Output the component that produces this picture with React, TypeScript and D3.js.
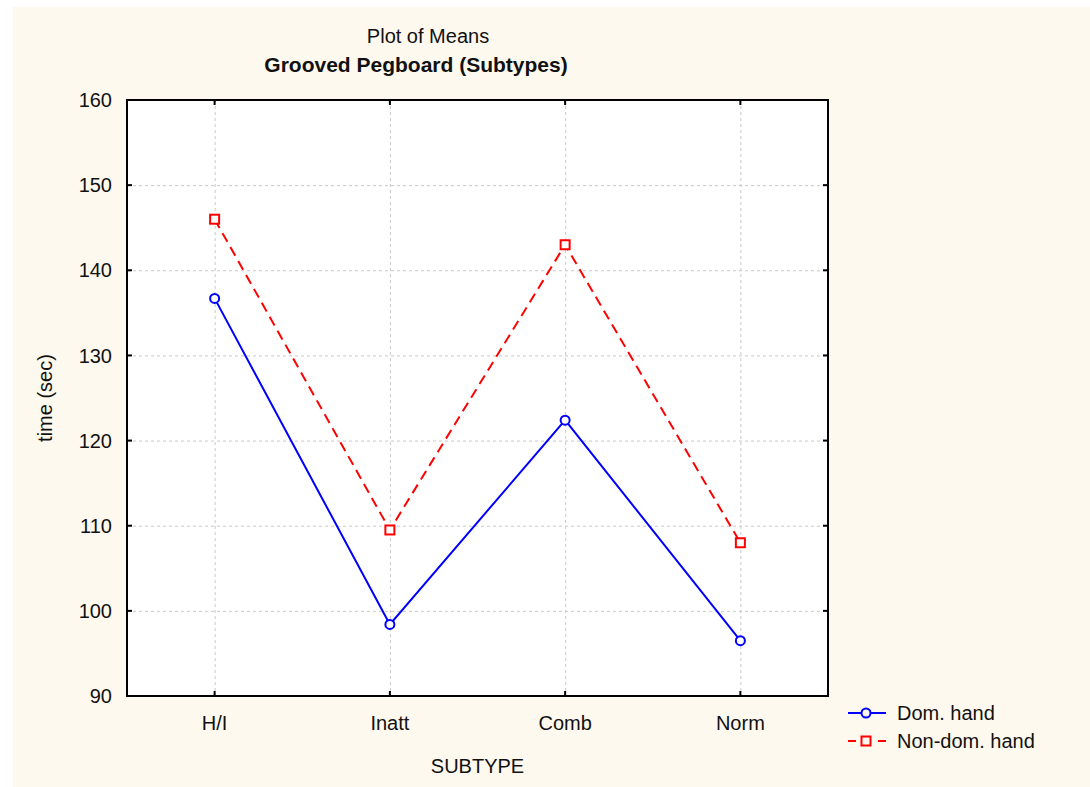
import React, { useEffect, useRef } from 'react';
import * as d3 from 'd3';

const categories = ['H/I', 'Inatt', 'Comb', 'Norm'];
const domHand = [136.7, 98.4, 122.4, 96.5];
const nonDomHand = [146.0, 109.5, 143.0, 108.0];
const yTicks = [90, 100, 110, 120, 130, 140, 150, 160];

const App = () => {
  const ref = useRef<SVGSVGElement>(null);
  const width = 1090;
  const height = 787;
  const margin = { top: 100, right: 262, bottom: 91, left: 127 };

  useEffect(() => {
    const svg = d3.select(ref.current);
    svg.selectAll('*').remove();
    const font = 'Liberation Sans, Arial, sans-serif';
    const fs = 20;

    // cream page background
    svg.append('rect')
      .attr('x', 13).attr('y', 7)
      .attr('width', width - 13).attr('height', height - 7)
      .attr('fill', '#fef9ee');

    const x = d3.scalePoint()
      .domain(categories)
      .range([margin.left, width - margin.right])
      .padding(0.5);

    const y = d3.scaleLinear()
      .domain([90, 160])
      .range([height - margin.bottom, margin.top]);

    const x0 = margin.left, x1 = width - margin.right;
    const y0 = margin.top, y1 = height - margin.bottom;

    svg.append('rect')
      .attr('x', x0).attr('y', y0)
      .attr('width', x1 - x0).attr('height', y1 - y0)
      .attr('fill', '#fff');

    // grid
    const grid = svg.append('g')
      .attr('stroke', '#c8c8c8')
      .attr('stroke-dasharray', '3,3')
      .attr('stroke-width', 1);
    grid.selectAll('.hg')
      .data(yTicks.slice(1, -1))
      .join('line')
      .attr('x1', x0).attr('x2', x1)
      .attr('y1', d => y(d) + 0.5).attr('y2', d => y(d) + 0.5);
    grid.selectAll('.vg')
      .data(categories)
      .join('line')
      .attr('x1', d => x(d)! + 0.5).attr('x2', d => x(d)! + 0.5)
      .attr('y1', y0).attr('y2', y1);

    // frame
    svg.append('rect')
      .attr('x', x0).attr('y', y0)
      .attr('width', x1 - x0).attr('height', y1 - y0)
      .attr('fill', 'none')
      .attr('stroke', '#000')
      .attr('stroke-width', 2);

    // inward ticks
    const ticks = svg.append('g').attr('stroke', '#000').attr('stroke-width', 2);
    yTicks.forEach(t => {
      ticks.append('line').attr('x1', x0).attr('x2', x0 + 5).attr('y1', y(t)).attr('y2', y(t));
      ticks.append('line').attr('x1', x1).attr('x2', x1 - 5).attr('y1', y(t)).attr('y2', y(t));
    });
    categories.forEach(c => {
      ticks.append('line').attr('x1', x(c)!).attr('x2', x(c)!).attr('y1', y0).attr('y2', y0 + 5);
      ticks.append('line').attr('x1', x(c)!).attr('x2', x(c)!).attr('y1', y1).attr('y2', y1 - 5);
    });

    // tick labels
    svg.append('g')
      .selectAll('text')
      .data(yTicks)
      .join('text')
      .attr('x', x0 - 15)
      .attr('y', d => y(d))
      .attr('dy', '0.36em')
      .attr('text-anchor', 'end')
      .attr('font-family', font)
      .attr('font-size', fs)
      .attr('fill', '#111')
      .text(d => d);

    svg.append('g')
      .selectAll('text')
      .data(categories)
      .join('text')
      .attr('x', d => x(d)!)
      .attr('y', y1 + 34)
      .attr('text-anchor', 'middle')
      .attr('font-family', font)
      .attr('font-size', fs)
      .attr('fill', '#111')
      .text(d => d);

    // axis titles
    svg.append('text')
      .attr('x', (x0 + x1) / 2)
      .attr('y', y1 + 77)
      .attr('text-anchor', 'middle')
      .attr('font-family', font)
      .attr('font-size', fs)
      .attr('fill', '#111')
      .text('SUBTYPE');

    svg.append('text')
      .attr('transform', `translate(52,${(y0 + y1) / 2}) rotate(-90)`)
      .attr('text-anchor', 'middle')
      .attr('font-family', font)
      .attr('font-size', fs)
      .attr('fill', '#111')
      .text('time (sec)');

    // titles
    svg.append('text')
      .attr('x', 428).attr('y', 43)
      .attr('text-anchor', 'middle')
      .attr('font-family', font)
      .attr('font-size', fs)
      .attr('fill', '#111')
      .text('Plot of Means');

    svg.append('text')
      .attr('x', 416).attr('y', 72)
      .attr('text-anchor', 'middle')
      .attr('font-family', font)
      .attr('font-size', 21)
      .attr('font-weight', 'bold')
      .attr('fill', '#111')
      .text('Grooved Pegboard (Subtypes)');

    const line = d3.line<number>()
      .x((_, i) => x(categories[i])!)
      .y(d => y(d));

    // non-dominant hand (red dashed, squares)
    svg.append('path')
      .datum(nonDomHand)
      .attr('d', line)
      .attr('fill', 'none')
      .attr('stroke', '#ff0000')
      .attr('stroke-width', 2)
      .attr('stroke-dasharray', '10,6');

    svg.append('g')
      .selectAll('rect')
      .data(nonDomHand)
      .join('rect')
      .attr('x', (_, i) => x(categories[i])! - 4.5)
      .attr('y', d => y(d) - 4.5)
      .attr('width', 9).attr('height', 9)
      .attr('fill', '#fff')
      .attr('stroke', '#ff0000')
      .attr('stroke-width', 2);

    // dominant hand (blue solid, circles)
    svg.append('path')
      .datum(domHand)
      .attr('d', line)
      .attr('fill', 'none')
      .attr('stroke', '#0000ff')
      .attr('stroke-width', 2);

    svg.append('g')
      .selectAll('circle')
      .data(domHand)
      .join('circle')
      .attr('cx', (_, i) => x(categories[i])!)
      .attr('cy', d => y(d))
      .attr('r', 4.5)
      .attr('fill', '#fff')
      .attr('stroke', '#0000ff')
      .attr('stroke-width', 2);

    // legend
    const lg = svg.append('g').attr('transform', 'translate(848,713)');
    lg.append('line').attr('x1', 0).attr('x2', 38).attr('y1', 0).attr('y2', 0)
      .attr('stroke', '#0000ff').attr('stroke-width', 2);
    lg.append('circle').attr('cx', 18).attr('cy', 0).attr('r', 4.5)
      .attr('fill', '#fef9ee').attr('stroke', '#0000ff').attr('stroke-width', 2);
    lg.append('text').attr('x', 49).attr('y', 0).attr('dy', '0.36em')
      .attr('font-family', font).attr('font-size', fs).attr('fill', '#111')
      .text('Dom. hand');

    const lg2 = svg.append('g').attr('transform', 'translate(848,741)');
    lg2.append('line').attr('x1', 0).attr('x2', 38).attr('y1', 0).attr('y2', 0)
      .attr('stroke', '#ff0000').attr('stroke-width', 2)
      .attr('stroke-dasharray', '8,22');
    lg2.append('rect').attr('x', 13.5).attr('y', -4.5).attr('width', 9).attr('height', 9)
      .attr('fill', '#fef9ee').attr('stroke', '#ff0000').attr('stroke-width', 2);
    lg2.append('text').attr('x', 49).attr('y', 0).attr('dy', '0.36em')
      .attr('font-family', font).attr('font-size', fs).attr('fill', '#111')
      .text('Non-dom. hand');
  }, []);

  return (
    <svg
      ref={ref}
      width={width}
      height={height}
      style={{ position: 'absolute', left: 0, top: 0, background: '#fff' }}
    />
  );
};

export default App;
